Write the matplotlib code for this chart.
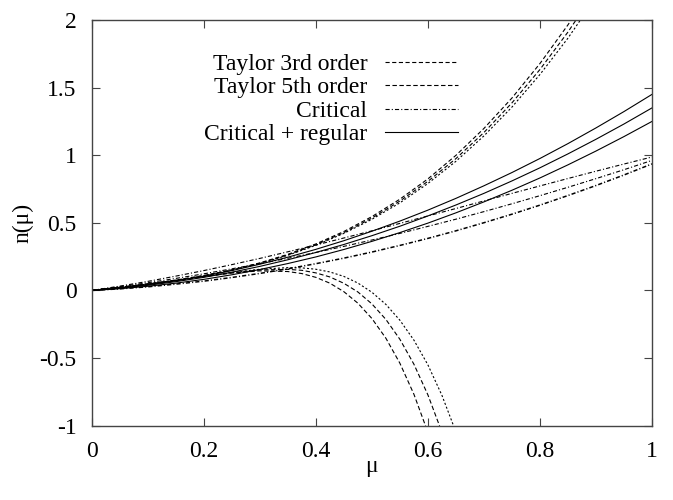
import matplotlib
matplotlib.use('Agg')
import matplotlib.pyplot as plt
from matplotlib.ticker import FormatStrFormatter

plt.rcParams['font.family'] = ['Liberation Serif', 'DejaVu Serif']
plt.rcParams['axes.unicode_minus'] = False
plt.rcParams['lines.scale_dashes'] = False

# values
mu = [0, 0.05, 0.1, 0.15, 0.2, 0.25, 0.3, 0.35, 0.4, 0.45, 0.5,
      0.55, 0.6, 0.65, 0.7, 0.75, 0.8, 0.85, 0.9, 0.95, 1.0]
mu_t3 = mu[:19]
mu_t5 = [0, 0.05, 0.1, 0.15, 0.2, 0.25, 0.3, 0.35, 0.375, 0.4, 0.425, 0.45,
         0.475, 0.5, 0.525, 0.55, 0.575, 0.6, 0.625, 0.65, 0.675]

taylor3 = [
    [0, 0.023, 0.047, 0.076, 0.110, 0.152, 0.204, 0.267, 0.344, 0.436,
     0.546, 0.675, 0.825, 0.999, 1.198, 1.423, 1.678, 1.964, 2.282],
    [0, 0.023, 0.047, 0.076, 0.109, 0.151, 0.201, 0.263, 0.338, 0.428,
     0.535, 0.661, 0.807, 0.975, 1.168, 1.387, 1.634, 1.911, 2.220],
    [0, 0.023, 0.047, 0.075, 0.109, 0.150, 0.199, 0.260, 0.334, 0.422,
     0.526, 0.648, 0.791, 0.955, 1.143, 1.356, 1.597, 1.866, 2.167],
]
taylor5 = [
    [0, 0.023, 0.047, 0.074, 0.102, 0.129, 0.145, 0.140, 0.125, 0.097, 0.054,
     -0.009, -0.094, -0.207, -0.353, -0.538, -0.767, -1.049, -1.389, -1.797, -2.28],
    [0, 0.023, 0.047, 0.074, 0.103, 0.131, 0.152, 0.156, 0.149, 0.130, 0.100,
     0.053, -0.011, -0.099, -0.214, -0.361, -0.545, -0.772, -1.048, -1.380, -1.776],
    [0, 0.023, 0.047, 0.074, 0.103, 0.133, 0.157, 0.169, 0.167, 0.157, 0.137,
     0.104, 0.055, -0.013, -0.103, -0.220, -0.367, -0.550, -0.775, -1.046, -1.371],
]
critical = [
    [0, 0.032, 0.067, 0.106, 0.147, 0.191, 0.237, 0.286, 0.336, 0.388, 0.441,
     0.496, 0.551, 0.606, 0.662, 0.718, 0.773, 0.828, 0.882, 0.935, 0.987],
    [0, 0.028, 0.057, 0.089, 0.123, 0.160, 0.198, 0.238, 0.281, 0.326, 0.373,
     0.422, 0.474, 0.527, 0.583, 0.641, 0.701, 0.763, 0.827, 0.893, 0.962],
    [0, 0.012, 0.027, 0.047, 0.069, 0.096, 0.126, 0.160, 0.198, 0.239, 0.284,
     0.333, 0.385, 0.441, 0.501, 0.564, 0.631, 0.702, 0.776, 0.854, 0.936],
]
crit_reg = [
    [0, 0.018, 0.042, 0.071, 0.106, 0.147, 0.194, 0.246, 0.304, 0.368, 0.438,
     0.513, 0.594, 0.681, 0.774, 0.872, 0.976, 1.086, 1.202, 1.323, 1.45],
    [0, 0.016, 0.038, 0.065, 0.097, 0.135, 0.178, 0.227, 0.281, 0.340, 0.405,
     0.475, 0.551, 0.632, 0.718, 0.810, 0.907, 1.010, 1.118, 1.231, 1.35],
    [0, 0.013, 0.031, 0.054, 0.082, 0.116, 0.155, 0.199, 0.248, 0.303, 0.363,
     0.428, 0.498, 0.574, 0.655, 0.741, 0.832, 0.929, 1.031, 1.138, 1.25],
]
labels = ['Taylor 3rd order', 'Taylor 5th order', 'Critical', 'Critical + regular']

fig = plt.figure(figsize=(6.73, 5.0), dpi=100)
ax = fig.add_axes([0.1363, 0.1486, 0.8325, 0.8114])

lw = 0.8
t3_dash = [(0, (3.0, 1.8)), (0, (3.0, 1.8)), (0, (1.5, 1.5))]
t5_dash = [(0, (3.2, 1.8)), (0, (3.2, 1.8)), (0, (1.5, 1.5))]
cr_dash = [(0, (3.0, 1.5, 0.8, 1.5))] * 3

for i in range(3):
    ax.plot(mu_t3, taylor3[i], color='black', lw=lw, ls=t3_dash[i],
            label=labels[0] if i == 0 else None)
for i in range(3):
    ax.plot(mu_t5, taylor5[i], color='black', lw=lw, ls=t5_dash[i],
            label=labels[1] if i == 0 else None)
for i in range(3):
    ax.plot(mu, critical[i], color='black', lw=lw if i < 2 else 1.1, ls=cr_dash[i],
            label=labels[2] if i == 0 else None)
for i in range(3):
    ax.plot(mu, crit_reg[i], color='black', lw=lw, ls='-',
            label=labels[3] if i == 0 else None)

ax.set_xlim(0, 1)
ax.set_ylim(-1, 2)
ax.set_xticks([0, 0.2, 0.4, 0.6, 0.8, 1])
ax.set_yticks([-1, -0.5, 0, 0.5, 1, 1.5, 2])
ax.xaxis.set_major_formatter(FormatStrFormatter('%g'))
ax.yaxis.set_major_formatter(FormatStrFormatter('%g'))
ax.tick_params(direction='in', top=True, right=True, length=6, width=0.8,
               labelsize=17, pad=11, color='#444444')
for s in ax.spines.values():
    s.set_color('#444444')
    s.set_linewidth(1.0)

ax.set_xlabel('μ', fontsize=17, labelpad=-4)
ax.set_ylabel('n(μ)', fontsize=17, labelpad=4)

ax.legend(loc='upper right', bbox_to_anchor=(0.654, 0.918), frameon=False,
          markerfirst=False, fontsize=17, handlelength=3.1, handletextpad=0.75,
          labelspacing=0.085, borderpad=0, borderaxespad=0)

fig.savefig('out.png', dpi=100)
